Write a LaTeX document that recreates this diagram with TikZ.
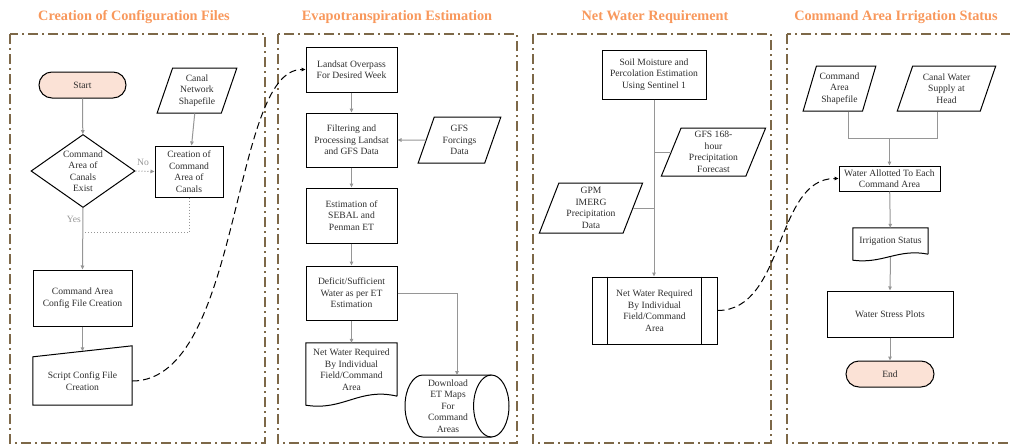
\documentclass[tikz,border=0pt]{standalone}
\usepackage{fontspec}
\setmainfont{Liberation Serif}
\usetikzlibrary{shapes.geometric,arrows.meta,calc}
\definecolor{brd}{RGB}{125,104,72}
\definecolor{ttl}{RGB}{248,152,92}
\definecolor{peach}{RGB}{251,226,214}
\definecolor{arr}{RGB}{150,150,150}
\definecolor{txt}{RGB}{45,45,45}
\begin{document}
\begin{tikzpicture}[x=1pt,y=-1pt,
  every node/.style={font=\fontsize{9.6}{11.5}\selectfont, text=txt, align=center, inner sep=0pt},
  box/.style={draw=black, line width=1pt, rectangle},
  plain/.style={rectangle},
  term/.style={draw=black, line width=1pt, rectangle, rounded corners=13pt, fill=peach},
  para/.style={draw=black, line width=1pt, trapezium, trapezium left angle=70, trapezium right angle=110, trapezium stretches=true},
  decis/.style={draw=black, line width=1pt, diamond, aspect=1.4},
  outline/.style={draw=black, line width=1pt},
  title/.style={font=\bfseries\fontsize{14.3}{16}\selectfont, text=ttl},
  panel/.style={draw=brd, line width=2pt, dash pattern=on 10pt off 4pt on 2pt off 4pt},
  flow/.style={draw=arr, line width=1pt, -{Triangle[length=4pt,width=3.5pt]}},
  link/.style={draw=arr, line width=1pt},
  dflow/.style={draw=arr, line width=1pt, dotted, -{Triangle[length=4pt,width=3.5pt]}},
  dlink/.style={draw=arr, line width=1pt, dotted},
  jump/.style={draw=black, line width=1pt, dash pattern=on 7pt off 4pt, -{Triangle[length=4pt,width=3.5pt]}},
  lbl/.style={text=arr}
]
\useasboundingbox (0,0) rectangle (1010,447);
\clip (0,0) rectangle (1010,447);

% panels
\draw[panel] (10,34) rectangle (265,443);
\draw[panel] (278,34) rectangle (517,443);
\draw[panel] (533,34) rectangle (771,443);
\draw[panel] (787,34) rectangle (1020,443);

% titles
\node[title] (t1) at (134,17) {Creation of Configuration Files};
\node[title] (t2) at (397,17) {Evapotranspiration Estimation};
\node[title] (t3) at (655,17) {Net Water Requirement};
\node[title] (t4) at (896,17) {Command Area Irrigation Status};

% ---------- panel 1
\node[term, minimum width=87pt, minimum height=26pt] (start) at (82.5,85) {Start};
\node[para, minimum width=80pt, minimum height=45pt] (canal) at (197,90.5) {Canal\\Network\\Shapefile};
\node[decis, minimum width=104pt, minimum height=73pt] (dec) at (83,171) {Command\\Area of\\Canals\\Exist};
\node[box, minimum width=68pt, minimum height=51pt] (create) at (189,171.5) {Creation of\\Command\\Area of\\Canals};
\node[box, minimum width=99pt, minimum height=56pt] (cfg) at (82.5,298) {Command Area\\Config File Creation};
\node[plain, minimum width=99pt, minimum height=48pt] (script) at (82.5,381) {Script Config File\\Creation};
\draw[outline] (script.south west) -- (script.south east) -- ([yshift=11pt]script.north east) -- (script.north west) -- cycle;
\coordinate (merge) at (83,232);

\draw[flow] (start) -- (dec);
\draw[flow] (canal) -- (create);
\draw[dflow] (dec.east) -- (create.west);
\node[lbl] (no) at (143,162) {No};
\draw[flow] (dec.south) -- (cfg.north);
\node[lbl, anchor=east] (yes) at (81,219) {Yes};
\draw[dlink] (create.south) |- (merge);
\draw[flow] (cfg.south) -- ([yshift=5.5pt]script.north);

% ---------- panel 2
\node[box, minimum width=91pt, minimum height=45pt] (landsat) at (351.5,69.5) {Landsat Overpass\\For Desired Week};
\node[box, minimum width=91pt, minimum height=54pt] (filt) at (351.5,140) {Filtering and\\Processing Landsat\\and GFS Data};
\node[para, minimum width=83pt, minimum height=46pt] (gfs) at (459.5,140) {GFS\\Forcings\\Data};
\node[box, minimum width=91pt, minimum height=55pt] (sebal) at (351.5,215.5) {Estimation of\\SEBAL and\\Penman ET};
\node[box, minimum width=91pt, minimum height=54pt] (deficit) at (351.5,293) {Deficit/Sufficient\\Water as per ET\\Estimation};
\node[plain, minimum width=91pt, minimum height=53pt] (netdoc) at (351.5,369.5) {Net Water Required\\By Individual\\Field/Command\\Area};
\draw[outline] (netdoc.south east) -- (netdoc.north east) -- (netdoc.north west) -- ($(netdoc.south west)+(0,9)$)
  .. controls ($(netdoc.south west)+(38,15)$) and ($(netdoc.south east)+(-38,-9)$) .. (netdoc.south east);
% cylinder (drawn around its text node)
\node[plain] (cyl) at (448,406) {Download\\ET Maps\\For\\Command\\Areas};
\coordinate (cyltop) at ($(cyl.center)+(9,-31)$);
\draw[outline] ($(cyl.center)+(43.3,-31)$) -- ($(cyl.center)+(-25.3,-31)$)
  arc[start angle=90, end angle=270, x radius=17.7pt, y radius=31pt] -- ($(cyl.center)+(43.3,31)$);
\draw[outline] ($(cyl.center)+(43.3,0)$) ellipse[x radius=17.7pt, y radius=31pt];

\draw[flow] (landsat) -- (filt);
\draw[flow] (gfs.west) -- (filt.east);
\draw[flow] (filt) -- (sebal);
\draw[flow] (sebal) -- (deficit);
\draw[flow] (deficit) -- (netdoc);
\draw[flow] (deficit.east) -| (cyltop);
\draw[jump] (script.east) .. controls +(110,0) and +(-75,0) .. (landsat.west);

% ---------- panel 3
\node[box, minimum width=104pt, minimum height=49pt] (soil) at (654,74.5) {Soil Moisture and\\Percolation Estimation\\Using Sentinel 1};
\node[para, minimum width=105pt, minimum height=48pt] (gfs168) at (713.5,152) {GFS 168-\\hour\\Precipitation\\Forecast};
\node[para, minimum width=104pt, minimum height=50pt] (gpm) at (591,208) {GPM\\IMERG\\Precipitation\\Data};
\node[box, minimum width=125pt, minimum height=67pt] (netpp) at (654.5,310.5) {Net Water Required\\By Individual\\Field/Command\\Area};
\draw[outline] ([xshift=16pt]netpp.north west) -- ([xshift=16pt]netpp.south west);
\draw[outline] ([xshift=-16pt]netpp.north east) -- ([xshift=-16pt]netpp.south east);

\draw[flow] (soil.south) -- (soil.south |- netpp.north);
\draw[link] (gfs168.west) -- (gfs168.west -| soil.south);
\draw[link] (gpm.east) -- (gpm.east -| soil.south);

% ---------- panel 4
\node[para, minimum width=73pt, minimum height=45pt] (cas) at (839.5,88.5) {Command\\Area\\Shapefile};
\node[para, minimum width=99pt, minimum height=45pt] (cws) at (946.5,88.5) {Canal Water\\Supply at\\Head};
\node[box, minimum width=101pt, minimum height=25pt] (wa) at (889.5,178.5) {Water Allotted To Each\\Command Area};
\node[plain, minimum width=75pt, minimum height=26pt] (irr) at (890.5,241) {Irrigation Status};
\draw[outline] (irr.south east) -- (irr.north east) -- (irr.north west) -- ($(irr.south west)+(0,6)$)
  .. controls ($(irr.south west)+(30,10)$) and ($(irr.south east)+(-30,-6)$) .. (irr.south east);
\node[box, minimum width=126pt, minimum height=46pt] (wsp) at (890,314) {Water Stress Plots};
\node[term, minimum width=88pt, minimum height=26pt] (endn) at (890,374) {End};

\coordinate (ja) at (848,138);
\coordinate (jb) at (937,138);
\draw[link] (cas.south -| ja) -- (ja) -- (jb) -- (cws.south -| jb);
\draw[flow] (wa.north |- ja) -- (wa.north);
\draw[flow] (wa) -- (irr);
\draw[flow] ([yshift=-3pt]irr.south) -- (wsp.north);
\draw[flow] (wsp) -- (endn);
\draw[jump] (netpp.east) .. controls +(68,0) and +(-64,0) .. (wa.west);
\end{tikzpicture}
\end{document}
